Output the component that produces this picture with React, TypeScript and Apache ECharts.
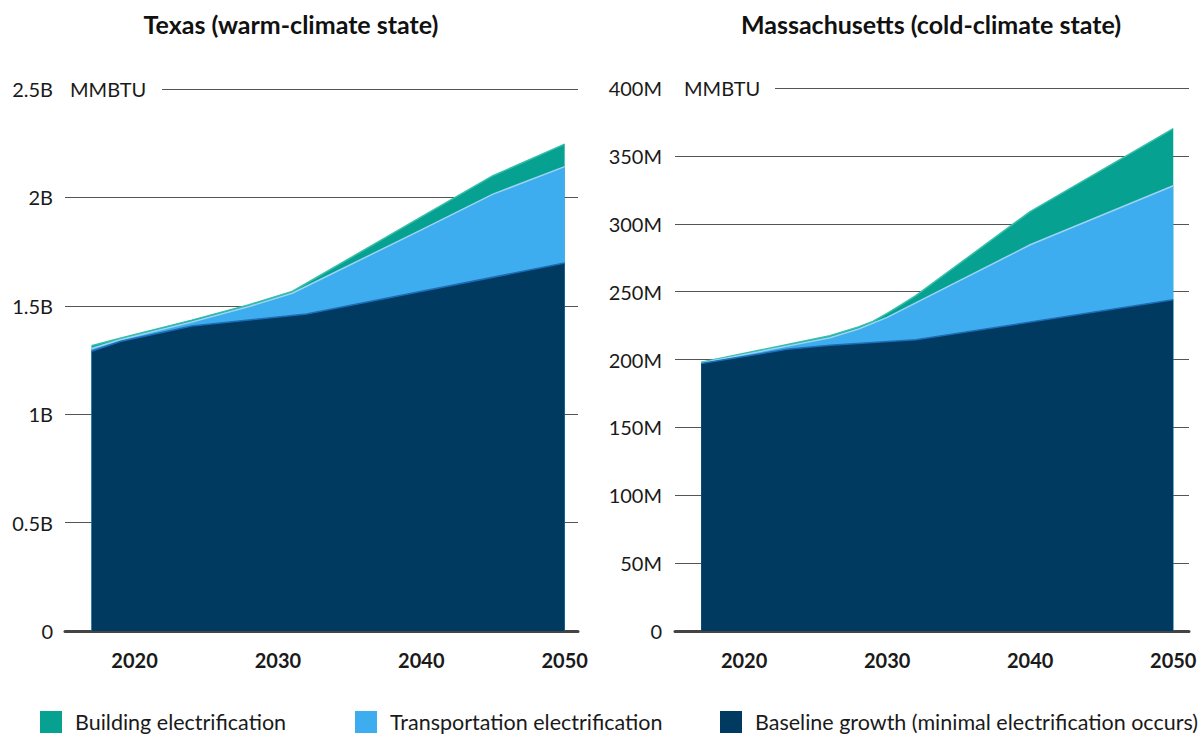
import React, { useEffect, useRef } from 'react';
import * as echarts from 'echarts';

// Texas, billions of MMBTU: top edge of each band, [year, value]
const txBaselineTop = [[2017, 1.29], [2019, 1.335], [2024, 1.407], [2032, 1.462], [2050, 1.697]];
const txTransportTop = [[2017, 1.303], [2019, 1.343], [2024, 1.425], [2028, 1.497], [2031, 1.558], [2040, 1.85], [2045, 2.015], [2050, 2.142]];
const txTotal = [[2017, 1.316], [2019, 1.35], [2024, 1.434], [2028, 1.505], [2031, 1.566], [2040, 1.91], [2045, 2.1], [2050, 2.246]];

// Massachusetts, millions of MMBTU
const maBaselineTop = [[2017, 197], [2023, 207.5], [2026, 210.5], [2032, 214.5], [2050, 244]];
const maTransportTop = [[2017, 197.5], [2026, 216], [2028, 222.5], [2030, 231], [2040, 284.5], [2050, 328]];
const maTotal = [[2017, 198], [2026, 217.5], [2028, 224], [2029, 228], [2030, 234], [2031, 240.5], [2032, 247], [2040, 309], [2050, 370]];

const yearLabels = [2020, 2030, 2040, 2050];
const seriesNames = ['Building electrification', 'Transportation electrification', 'Baseline growth (minimal electrification occurs)'];
const titles = ['Texas (warm-climate state)', 'Massachusetts (cold-climate state)'];

const FONT = 'Lato';
const C_BUILD = '#06A191';
const C_TRANS = '#3EADEF';
const C_BASE = '#003A60';
const L_BUILD = '#33BFA8';
const L_TRANS = '#9ED3F4';
const L_BASE = '#1C6DB6';

const ICON = 'path://M0 0H22V22H0Z M30 11L30 11';

function areaSeries(name: string, data: number[][], idx: number, fill: string, line: string, z: number) {
  return {
    type: 'line',
    name,
    data,
    xAxisIndex: idx,
    yAxisIndex: idx,
    symbol: 'none',
    color: fill,
    z,
    lineStyle: { color: line, width: 1.5 },
    areaStyle: { color: fill, opacity: 1 },
    emphasis: { disabled: true },
  };
}

export default function App() {
  const ref = useRef<HTMLDivElement>(null);
  useEffect(() => {
    document.body.style.margin = '0';
    const chart = echarts.init(ref.current!, undefined, { renderer: 'svg' });
    const labelStyle = { fontFamily: FONT, fontSize: 20, color: '#1a1a1a' };
    const xAxisCommon = {
      type: 'value',
      axisTick: { show: false },
      splitLine: { show: false },
      axisLine: { show: true, lineStyle: { color: '#444', width: 3 } },
      axisLabel: { ...labelStyle, fontWeight: 'bold', margin: 19, customValues: yearLabels, formatter: (v: number) => String(v) },
    };
    const yAxisCommon = {
      type: 'value',
      min: 0,
      axisLine: { show: false },
      axisTick: { show: false },
      splitLine: { show: true, lineStyle: { color: '#555', width: 1 } },
    };
    const legendCommon = {
      top: 711,
      padding: 0,
      itemWidth: 30,
      itemHeight: 22,
      selectedMode: false,
      textStyle: { fontFamily: FONT, fontSize: 21.5, color: '#1a1a1a' },
      itemStyle: { borderWidth: 0 },
    };
    const titleStyle = { fontFamily: FONT, fontWeight: 'bold', fontSize: 25, color: '#111' };
    chart.setOption({
      animation: false,
      title: [
        { text: titles[0], left: 291, top: 11, padding: 0, textAlign: 'center', textStyle: titleStyle },
        { text: titles[1], left: 931, top: 11, padding: 0, textAlign: 'center', textStyle: titleStyle },
      ],
      grid: [
        { left: 65, right: 1204 - 578, top: 89, bottom: 737 - 631 },
        { left: 675, right: 1204 - 1189, top: 88, bottom: 737 - 631 },
      ],
      xAxis: [
        { ...xAxisCommon, gridIndex: 0, min: 2015.15, max: 2050.93 },
        { ...xAxisCommon, gridIndex: 1, min: 2015.17, max: 2051.1 },
      ],
      yAxis: [
        { ...yAxisCommon, gridIndex: 0, max: 2.5, interval: 0.5, axisLabel: { ...labelStyle, margin: 12, formatter: (v: number) => (v === 0 ? '0' : v + 'B') } },
        { ...yAxisCommon, gridIndex: 1, max: 400, interval: 50, axisLabel: { ...labelStyle, margin: 13, formatter: (v: number) => (v === 0 ? '0' : v + 'M') } },
      ],
      legend: [
        { ...legendCommon, left: 40, data: [{ name: seriesNames[0], icon: ICON, itemStyle: { color: C_BUILD } }] },
        { ...legendCommon, left: 355, data: [{ name: seriesNames[1], icon: ICON, itemStyle: { color: C_TRANS } }] },
        { ...legendCommon, left: 720, data: [{ name: seriesNames[2], icon: ICON, itemStyle: { color: C_BASE } }] },
      ],
      graphic: [
        { type: 'rect', z: 50, shape: { x: 60, y: 83, width: 102, height: 12 }, style: { fill: '#fff' } },
        { type: 'text', z: 51, x: 70, y: 89, style: { text: 'MMBTU', fontFamily: FONT, fontSize: 20, fill: '#1a1a1a', verticalAlign: 'middle' } },
        { type: 'rect', z: 50, shape: { x: 670, y: 82, width: 105, height: 12 }, style: { fill: '#fff' } },
        { type: 'text', z: 51, x: 684, y: 88, style: { text: 'MMBTU', fontFamily: FONT, fontSize: 20, fill: '#1a1a1a', verticalAlign: 'middle' } },
      ],
      series: [
        areaSeries(seriesNames[0], txTotal, 0, C_BUILD, L_BUILD, 2),
        areaSeries(seriesNames[1], txTransportTop, 0, C_TRANS, L_TRANS, 3),
        areaSeries(seriesNames[2], txBaselineTop, 0, C_BASE, L_BASE, 4),
        areaSeries(seriesNames[0], maTotal, 1, C_BUILD, L_BUILD, 2),
        areaSeries(seriesNames[1], maTransportTop, 1, C_TRANS, L_TRANS, 3),
        areaSeries(seriesNames[2], maBaselineTop, 1, C_BASE, L_BASE, 4),
      ],
    });
    return () => chart.dispose();
  }, []);
  return <div ref={ref} style={{ width: 1204, height: 737 }} />;
}
